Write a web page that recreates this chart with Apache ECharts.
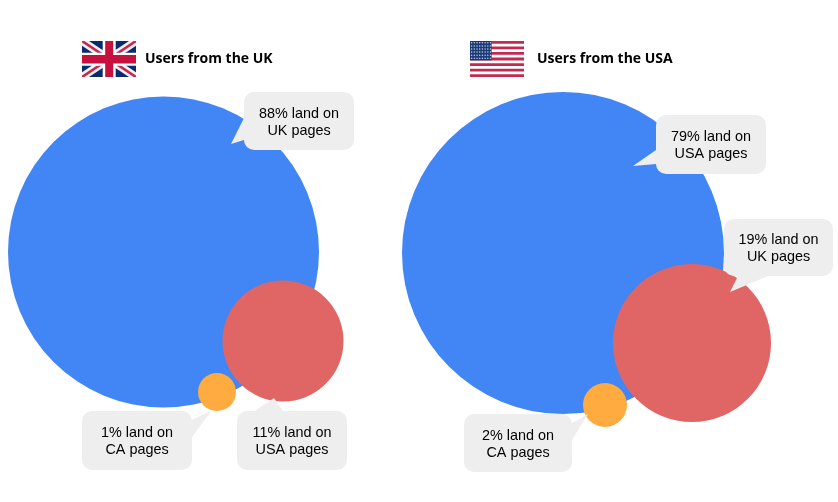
<!DOCTYPE html>
<html><head><meta charset="utf-8">
<style>html,body{margin:0;padding:0;background:#fff}#c{width:838px;height:502px}</style>
<script src="https://cdn.jsdelivr.net/npm/echarts@6/dist/echarts.min.js"></script>
</head><body><div id="c"></div>
<script>
// values
const ukShares = [88, 11, 1];
const usShares = [79, 19, 2];
const ukPages = ['UK', 'USA', 'CA'];
const usPages = ['USA', 'UK', 'CA'];
const titles = ['Users from the UK', 'Users from the USA'];
// layout
const bubbleX = [163.5, 283, 217, 563, 692, 605];
const bubbleY = [252, 341, 392, 253, 343, 405];
const bubbleD = [311, 121, 38, 322, 158, 44];
const bubbleColors = ['#4285f4', '#e06666', '#ffab40', '#4285f4', '#e06666', '#ffab40'];
const boxes = [[244,92,354,150],[237,411,347,470],[82,411,192,470],[656,115,766,174],[724,219,833,276],[464,414,572,472]];
const tails = [
  [[244,118],[231,144],[244,140]],
  [[255,411],[274,398],[283,411]],
  [[192,420],[212,410],[192,437]],
  [[656,150],[633,166],[656,164]],
  [[738,276],[730,292],[768,276]],
  [[572,423],[588,414],[572,440]]
];
const shares = ukShares.concat(usShares);
const pages = ukPages.concat(usPages);

function band(x0,y0,x1,y1,t,flip){
  const a=t, b=t*(y1-y0)/(x1-x0);
  const p=[[x0,y0],[x0+a,y0],[x1,y1-b],[x1,y1],[x1-a,y1],[x0,y0+b]];
  return flip?p.map(q=>[x0+x1-q[0],q[1]]):p;
}
const poly=(pts,fill)=>({type:'polygon',shape:{points:pts},style:{fill}});
const rect=(x,y,w,h,fill)=>({type:'rect',shape:{x,y,width:w,height:h},style:{fill}});
function ukFlag(x,y,w,h){
  const X=x+w,Y=y+h,cx=x+w/2+0.2,cy=y+h/2+0.2;
  return [rect(x,y,w,h,'#0a2a6e'),
    poly(band(x,y,X,Y,7,false),'#f4f0f2'),poly(band(x,y,X,Y,7,true),'#f4f0f2'),
    poly(band(x,y,X,Y,2.4,false),'#c8274f'),poly(band(x,y,X,Y,2.4,true),'#c8274f'),
    rect(cx-6.5,y,13,h,'#fff'),rect(x,cy-6.5,w,13,'#fff'),
    rect(cx-4,y,8,h,'#c8103e'),rect(x,cy-4.2,w,8.4,'#c8103e')];
}
function usFlag(x,y,w,h){
  const out=[rect(x,y,w,h,'#fff')], s=h/13;
  for(let i=0;i<13;i+=2) out.push(rect(x,y+i*s,w,s,'#c22a50'));
  out.push(rect(x,y,w*0.4,s*7,'#1a3a78'));
  for(let r=0;r<6;r++) for(let c=0;c<8;c++)
    out.push({type:'circle',shape:{cx:x+1.6+c*2.7,cy:y+1.8+r*3.1,r:0.75},style:{fill:'#c3cfe4'}});
  return out;
}
const titleText=(x,t)=>({type:'text',x,y:59,style:{text:t,fill:'#000',font:'bold 14px "Open Sans"',textVerticalAlign:'middle'}});

const chart=echarts.init(document.getElementById('c'),null,{renderer:'canvas'});
chart.setOption({
  animation:false,
  grid:{left:0,right:0,top:0,bottom:0},
  xAxis:{type:'value',min:0,max:838,show:false},
  yAxis:{type:'value',min:0,max:502,inverse:true,show:false},
  graphic:{elements:[
    {type:'group',children:ukFlag(82,41,54,36)},
    {type:'group',children:usFlag(470,41,54,36)},
    titleText(145,titles[0]),titleText(537,titles[1])
  ]},
  series:[
    {type:'scatter',silent:true,z:2,
     data:shares.map((v,i)=>({value:[bubbleX[i],bubbleY[i],v],symbolSize:bubbleD[i],itemStyle:{color:bubbleColors[i],opacity:1}}))},
    {type:'custom',silent:true,z:3,
     data:shares.map((v,i)=>[i,v]),
     encode:{x:[],y:[]},
     renderItem:function(params,api){
       const i=api.value(0), b=boxes[i];
       const p0=api.coord([b[0],b[1]]),p1=api.coord([b[2],b[3]]);
       return {type:'group',children:[
         {type:'polygon',shape:{points:tails[i].map(q=>api.coord(q))},style:{fill:'#eeeeee'}},
         {type:'rect',shape:{x:p0[0],y:p0[1],width:p1[0]-p0[0],height:p1[1]-p0[1],r:10},style:{fill:'#eeeeee'}},
         {type:'text',x:(p0[0]+p1[0])/2,y:(p0[1]+p1[1])/2+1.5,style:{
           text:api.value(1)+'% land on\n'+pages[i]+' pages',
           fill:'#000',font:'14.4px "Liberation Sans"',lineHeight:17,align:'center',verticalAlign:'middle',
           textAlign:'center',textVerticalAlign:'middle'}}
       ]};
     }}
  ]
});
</script></body></html>
